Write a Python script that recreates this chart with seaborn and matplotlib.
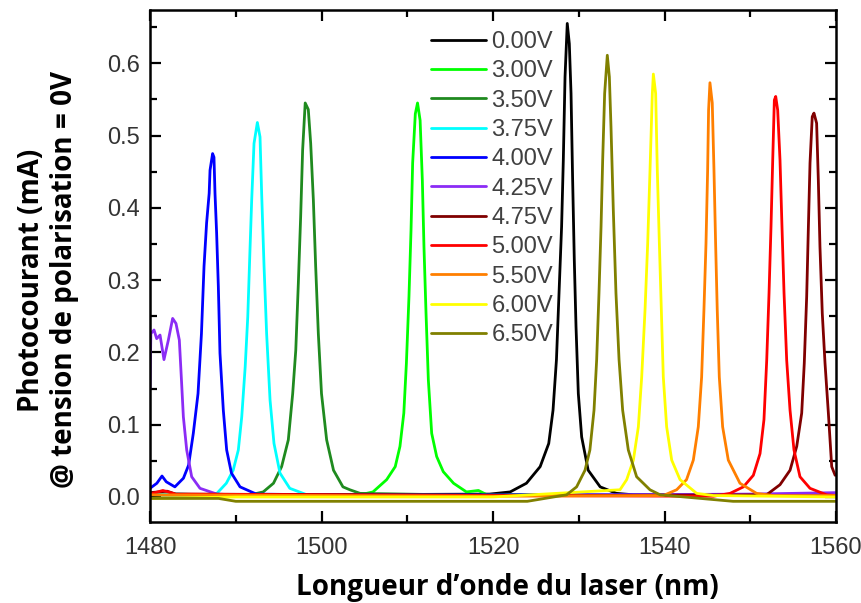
import matplotlib
matplotlib.use("Agg")
import matplotlib.pyplot as plt
import seaborn as sns
import pandas as pd
from matplotlib.ticker import MultipleLocator

# wavelength (nm) / photocurrent (mA), one pair per bias voltage
wl_000 = [1480, 1500, 1519.6, 1522.0, 1523.9, 1525.5, 1526.5, 1527.0, 1527.4, 1527.7, 1528.0, 1528.2, 1528.4,
          1528.66, 1528.9, 1529.1, 1529.28, 1529.48, 1529.68, 1529.95, 1530.34, 1531.1, 1532.5, 1534.4, 1536.4, 1545, 1560]
pc_000 = [0.003, 0.003, 0.004, 0.007, 0.019, 0.042, 0.074, 0.120, 0.190, 0.282, 0.374, 0.466, 0.581,
          0.655, 0.627, 0.558, 0.443, 0.328, 0.236, 0.143, 0.083, 0.037, 0.014, 0.005, 0.003, 0.002, 0.002]

wl_300 = [1480, 1495, 1504.5, 1506.0, 1507.6, 1508.6, 1509.15, 1509.6, 1509.9, 1510.2, 1510.44, 1510.63, 1510.94, 1511.2,
          1511.5, 1511.76, 1511.95, 1512.19, 1512.46, 1512.85, 1513.43, 1514.2, 1515.4, 1516.9, 1518.3, 1519.3, 1530, 1560]
pc_300 = [0.004, 0.002, 0.003, 0.007, 0.024, 0.042, 0.070, 0.116, 0.185, 0.277, 0.369, 0.462, 0.530, 0.545,
          0.521, 0.438, 0.346, 0.254, 0.162, 0.088, 0.056, 0.035, 0.019, 0.007, 0.009, 0.003, 0.002, 0.002]

wl_350 = [1480, 1488, 1491.7, 1493.2, 1494.4, 1495.35, 1496.13, 1496.64, 1497.0, 1497.3, 1497.57, 1497.8, 1498.1,
          1498.46, 1498.74, 1499.05, 1499.32, 1499.63, 1500.0, 1500.6, 1501.4, 1502.5, 1503.3, 1504.5, 1515, 1560]
pc_350 = [0.003, 0.002, 0.003, 0.007, 0.019, 0.042, 0.079, 0.143, 0.203, 0.296, 0.388, 0.480, 0.545,
          0.536, 0.489, 0.411, 0.319, 0.226, 0.143, 0.079, 0.037, 0.014, 0.010, 0.005, 0.003, 0.002]

wl_375 = [1480, 1486, 1487.8, 1488.9, 1489.7, 1490.3, 1490.7, 1491.1, 1491.4, 1491.66, 1491.86, 1492.13, 1492.52,
          1492.83, 1493.02, 1493.3, 1493.6, 1494.0, 1494.46, 1495.16, 1496.3, 1498.3, 1510, 1560]
pc_375 = [0.006, 0.003, 0.005, 0.019, 0.037, 0.065, 0.111, 0.180, 0.249, 0.342, 0.411, 0.489, 0.518,
          0.498, 0.420, 0.319, 0.226, 0.134, 0.074, 0.033, 0.012, 0.003, 0.002, 0.002]

wl_400 = [1480, 1480.8, 1481.4, 1481.9, 1482.9, 1483.9, 1484.5, 1485.05, 1485.6, 1486.0, 1486.3, 1486.6, 1486.9, 1487.0,
          1487.3, 1487.46, 1487.58, 1487.77, 1487.97, 1488.16, 1488.55, 1488.94, 1489.5, 1490.5, 1492.4, 1500, 1560]
pc_400 = [0.012, 0.019, 0.029, 0.021, 0.014, 0.026, 0.044, 0.088, 0.143, 0.226, 0.319, 0.379, 0.420, 0.452,
          0.475, 0.470, 0.420, 0.365, 0.291, 0.199, 0.120, 0.065, 0.033, 0.014, 0.004, 0.003, 0.003]

wl_425 = [1480, 1480.1, 1480.47, 1480.78, 1481.17, 1481.63, 1482.14, 1482.64, 1483.03, 1483.42, 1483.69, 1483.89,
          1484.28, 1484.86, 1485.83, 1487.8, 1491.7, 1520, 1550, 1560]
pc_425 = [0.150, 0.226, 0.231, 0.219, 0.224, 0.190, 0.217, 0.247, 0.240, 0.217, 0.157, 0.111,
          0.065, 0.028, 0.012, 0.004, 0.002, 0.002, 0.004, 0.006]

wl_475 = [1480, 1482, 1483, 1530, 1551.9, 1553.47, 1554.64, 1555.42, 1556.0, 1556.3, 1556.58, 1556.77, 1556.97,
          1557.23, 1557.43, 1557.74, 1557.94, 1558.13, 1558.4, 1558.72, 1559.11, 1559.5, 1559.9]
pc_475 = [0.006, 0.008, 0.004, 0.002, 0.003, 0.017, 0.037, 0.070, 0.116, 0.185, 0.277, 0.369, 0.462,
          0.526, 0.531, 0.517, 0.438, 0.346, 0.254, 0.185, 0.116, 0.042, 0.030]

wl_500 = [1480, 1481.5, 1483, 1520, 1545.7, 1547.64, 1549.2, 1550.36, 1551.14, 1551.6, 1551.92, 1552.19, 1552.42,
          1552.62, 1552.81, 1552.97, 1553.2, 1553.47, 1553.7, 1553.94, 1554.25, 1554.64, 1555.1, 1555.8, 1556.97,
          1558.9, 1560]
pc_500 = [0.004, 0.009, 0.004, 0.002, 0.001, 0.005, 0.014, 0.030, 0.060, 0.107, 0.189, 0.282, 0.374,
          0.466, 0.549, 0.554, 0.535, 0.466, 0.374, 0.282, 0.189, 0.120, 0.065, 0.028, 0.012,
          0.003, 0.002]

wl_550 = [1480, 1520, 1539.86, 1541.42, 1542.57, 1543.36, 1543.94, 1544.33, 1544.6, 1544.84, 1545.03, 1545.14,
          1545.3, 1545.57, 1545.77, 1545.96, 1546.15, 1546.39, 1546.78, 1547.44, 1548.8, 1550.74, 1552.7, 1560]
pc_550 = [0.003, 0.001, 0.002, 0.010, 0.024, 0.051, 0.097, 0.166, 0.259, 0.351, 0.452, 0.535,
          0.573, 0.545, 0.452, 0.351, 0.259, 0.166, 0.097, 0.051, 0.019, 0.005, 0.002, 0.002]

wl_600 = [1480, 1490, 1520, 1534.81, 1535.59, 1536.37, 1536.95, 1537.34, 1537.73, 1538.04, 1538.31, 1538.58,
          1538.7, 1538.97, 1539.16, 1539.4, 1539.63, 1539.86, 1540.25, 1540.84, 1541.81, 1543.75, 1545.7, 1560]
pc_600 = [-0.002, 0.0, 0.0, 0.010, 0.024, 0.051, 0.097, 0.166, 0.259, 0.351, 0.452, 0.558,
          0.585, 0.558, 0.452, 0.351, 0.259, 0.166, 0.097, 0.051, 0.024, 0.005, 0.002, 0.0]

wl_650 = [1480, 1488, 1490, 1524, 1528.58, 1529.75, 1530.73, 1531.3, 1531.78, 1532.09, 1532.36, 1532.6, 1532.79,
          1533.02, 1533.33, 1533.57, 1533.76, 1534.03, 1534.34, 1534.7, 1535.12, 1535.78, 1536.75, 1538.3, 1539.5,
          1548, 1560]
pc_650 = [-0.002, -0.002, -0.006, -0.006, 0.003, 0.014, 0.037, 0.065, 0.120, 0.190, 0.282, 0.374, 0.466,
          0.558, 0.611, 0.581, 0.512, 0.397, 0.282, 0.190, 0.120, 0.065, 0.028, 0.010, 0.003,
          -0.006, -0.006]

labels = ["0.00V", "3.00V", "3.50V", "3.75V", "4.00V", "4.25V", "4.75V", "5.00V", "5.50V", "6.00V", "6.50V"]
colors = ["#000000", "#00ff00", "#1f8a1f", "#00ffff", "#0000ff", "#8b2cf5", "#800000", "#ff0000",
          "#ff7f00", "#ffff00", "#808000"]
curves = [(wl_000, pc_000), (wl_300, pc_300), (wl_350, pc_350), (wl_375, pc_375), (wl_400, pc_400),
          (wl_425, pc_425), (wl_475, pc_475), (wl_500, pc_500), (wl_550, pc_550), (wl_600, pc_600),
          (wl_650, pc_650)]

sns.set_style("ticks")
plt.rcParams['font.family'] = ['Liberation Sans', 'DejaVu Sans']

fig = plt.figure(figsize=(8.61, 6.03), dpi=100)
ax = fig.add_axes([150 / 861, 1 - 522 / 603, 686 / 861, 512 / 603])

for (wl, pc), lab, col in zip(curves, labels, colors):
    df = pd.DataFrame({"wl": wl, "pc": pc})
    sns.lineplot(data=df, x="wl", y="pc", color=col, label=lab, linewidth=2.0, ax=ax)

ax.set_xlim(1480, 1560)
ax.set_ylim(-0.0346, 0.6736)
ax.xaxis.set_major_locator(MultipleLocator(20))
ax.xaxis.set_minor_locator(MultipleLocator(10))
ax.yaxis.set_major_locator(MultipleLocator(0.1))
ax.yaxis.set_minor_locator(MultipleLocator(0.05))
ax.yaxis.set_major_formatter(matplotlib.ticker.FormatStrFormatter('%.1f'))

ax.tick_params(which='both', direction='in', top=True, right=True, width=1.6, color='black',
               labelsize=17, labelcolor='#333333')
ax.tick_params(which='major', length=8)
ax.tick_params(which='minor', length=5)
ax.tick_params(axis='x', which='major', pad=11)
ax.tick_params(axis='y', which='major', pad=7.5)
for sp in ax.spines.values():
    sp.set_linewidth(1.8)
    sp.set_color('black')

ax.set_xlabel("")
ax.set_ylabel("")
bold_font = dict(fontsize=20, fontweight='bold', family=['Open Sans', 'DejaVu Sans'], color='black')
fig.text(507 / 861, 1 - 595 / 603, "Longueur d’onde du laser (nm)", ha='center', va='baseline', **bold_font)
fig.text(32 / 861, 1 - 280 / 603, "Photocourant (mA)", rotation=90, ha='center', va='center', **bold_font)
fig.text(65 / 861, 1 - 280 / 603, "@ tension de polarisation = 0V", rotation=90, ha='center', va='center',
         **bold_font)

leg = ax.legend(loc='upper left', bbox_to_anchor=(0.41, 0.959), frameon=False, fontsize=17,
                handlelength=2.3, handletextpad=0.25, labelspacing=0.31, borderpad=0, borderaxespad=0)
for t in leg.get_texts():
    t.set_color('#404040')

fig.savefig("out.png", dpi=100)
